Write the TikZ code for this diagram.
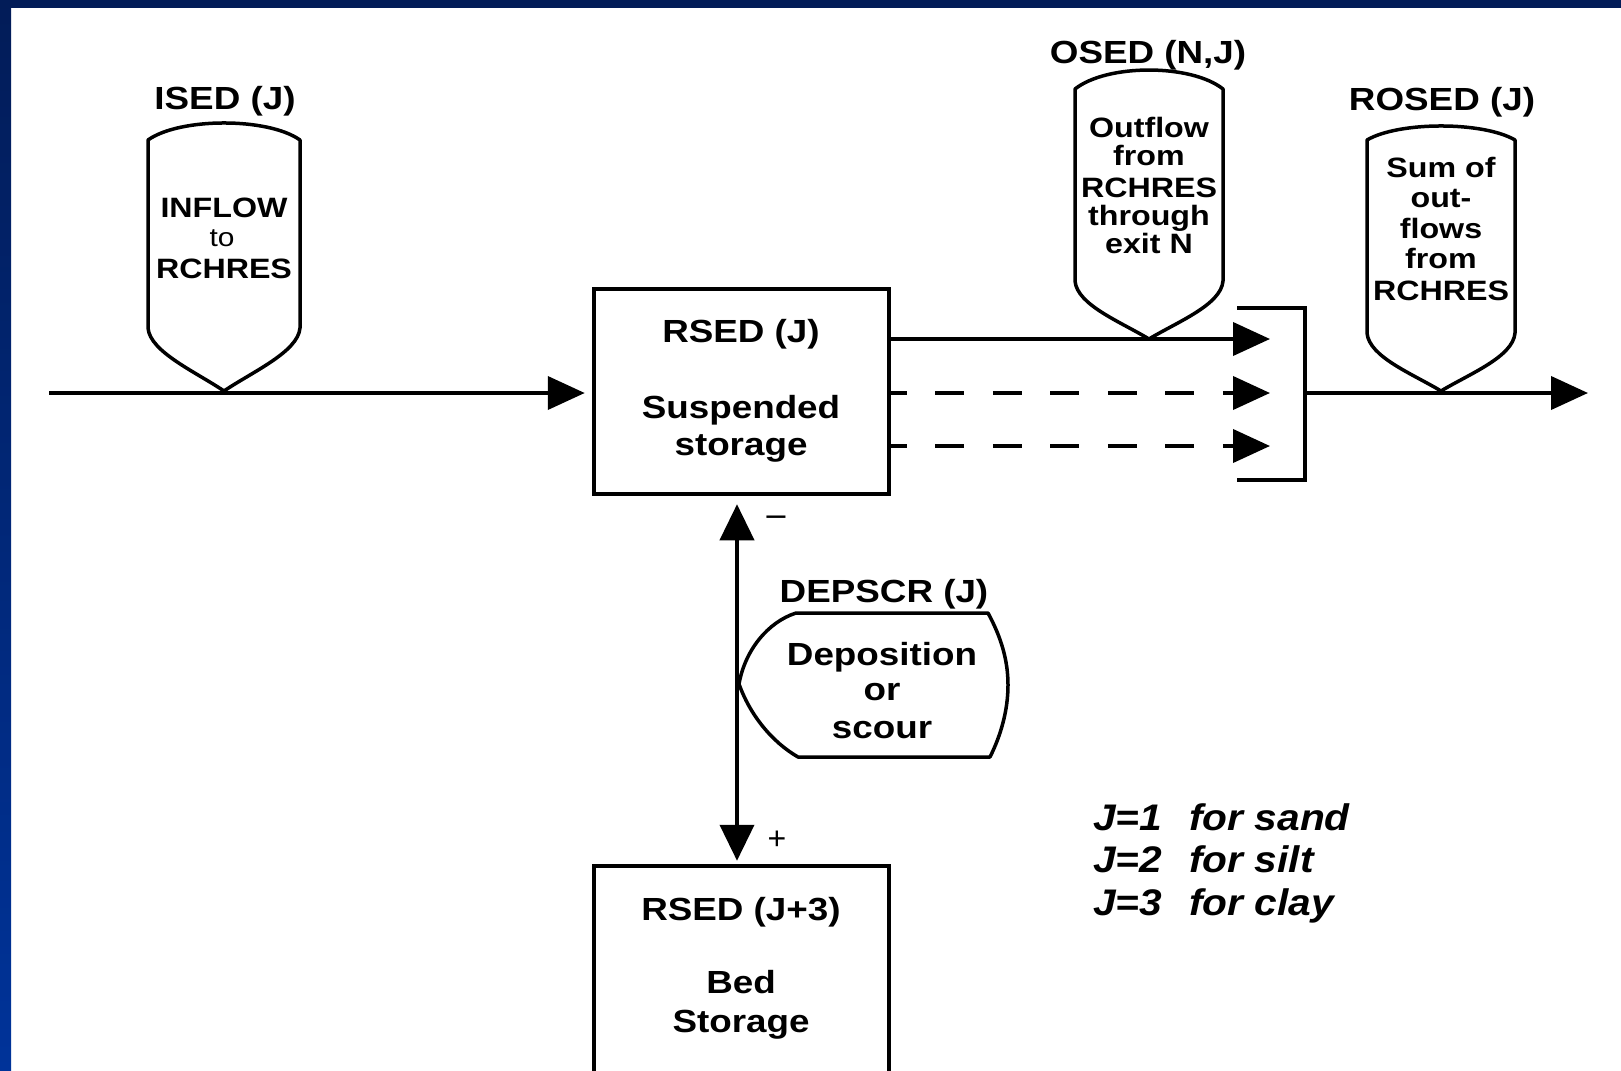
\documentclass[tikz,border=0pt]{standalone}
\usepackage{fontspec}
\setmainfont{Liberation Sans}
\usepackage{graphicx}
\usetikzlibrary{arrows.meta}
\definecolor{navy}{RGB}{2,28,88}
\definecolor{frameblue}{RGB}{0,51,153}
\newcommand{\sx}[1]{\scalebox{1.15}[1]{#1}}
\newcommand{\sj}[1]{\scalebox{1.1}[1]{#1}}
\newcommand{\fL}{\fontsize{32}{38}\selectfont\bfseries}
\newcommand{\fS}{\fontsize{28}{32}\selectfont\bfseries}
\newcommand{\fT}{\fontsize{26}{30}\selectfont}
\newcommand{\fJ}{\fontsize{37}{42}\selectfont\bfseries\itshape}
\begin{document}
\begin{tikzpicture}[x=1pt,y=-1pt,
  txt/.style={inner sep=0pt, anchor=base},
  box/.style={draw, line width=4.5pt, fill=white, inner sep=0pt},
  shield/.style={draw, line width=3.5pt, fill=white, line join=round},
  flow/.style={line width=4pt, -{Triangle[length=37pt,width=33pt]}},
  dflow/.style={flow, dash pattern=on 29pt off 28.5pt, dash phase=13.5pt},
  biflow/.style={line width=4pt, {Triangle[length=36pt,width=34pt]}-{Triangle[length=36pt,width=34pt]}},
]
\useasboundingbox (0,0) rectangle (1621,1070);
\fill[white] (0,0) rectangle (1621,1070);
\fill[navy] (0,0) rectangle (1621,8);
\shade[top color=navy, bottom color=frameblue] (0,0) rectangle (11,1070);

% boxes
\node[box, minimum width=295pt, minimum height=205pt] (susp) at (741.5,391.5) {};
\node[box, minimum width=295pt, minimum height=218pt] (bed) at (741.5,975) {};

% coordinates
\coordinate (src) at (49,393);
\coordinate (t1) at (1270,339);
\coordinate (t2) at (1270,393);
\coordinate (t3) at (1270,446);
\coordinate (brT) at (1237,308);
\coordinate (brB) at (1237,480);
\coordinate (brR) at (1305,393);
\coordinate (out) at (1588,393);
\coordinate (vx) at (737,0);

% input line
\draw[flow, shorten >=7pt] (src) -- (src -| susp.west);

% outflows
\draw[flow] (susp.east |- t1) -- (t1);
\draw[dflow] (susp.east |- t2) -- (t2);
\draw[dflow] (susp.east |- t3) -- (t3);

% bracket
\draw[line width=4.5pt] (brT) -| (brR |- brB) -- (brB);
\draw[flow] (brR) -- (out);

% vertical exchange
\draw[biflow, shorten <=8pt, shorten >=3pt] (susp.south -| vx) -- (bed.north -| vx);

% ISED shield
\draw[shield] (148,140) .. controls (180,117.3) and (268,117.3) .. (300,140) -- (300,328)
  .. controls (298,352) and (252,372) .. (224,391)
  .. controls (196,372) and (150,352) .. (148,328) -- cycle;
% OSED shield
\draw[shield] (1075,89) .. controls (1107,63.7) and (1191,63.7) .. (1223,89) -- (1223,281)
  .. controls (1221,305) and (1177,322) .. (1149,339)
  .. controls (1121,322) and (1077,305) .. (1075,281) -- cycle;
% ROSED shield
\draw[shield] (1367,140) .. controls (1399,121.3) and (1483,121.3) .. (1515,140) -- (1515,333)
  .. controls (1513,357) and (1469,374) .. (1441,391)
  .. controls (1413,374) and (1369,357) .. (1367,333) -- cycle;
% DEPSCR display shape
\draw[shield] (796,613) -- (988,613) .. controls (1001,637) and (1008,660) .. (1008,685)
  .. controls (1008,710) and (1001,735) .. (990,757) -- (798,757)
  .. controls (772,742) and (750,715) .. (739,684)
  .. controls (745,650) and (768,622) .. (796,613) -- cycle;

% ISED texts
\node[txt] (isedL) at (225,110) {\fL\sx{ISED (J)}};
\node[txt] (ised1) at (224,217) {\fS\sx{INFLOW}};
\node[txt] (ised2) at (222,246) {\fT\sx{to}};
\node[txt] (ised3) at (224,278) {\fS\sx{RCHRES}};

% OSED texts
\node[txt] (osedL) at (1148,64) {\fL\sx{OSED (N,J)}};
\node[txt] (osed1) at (1149,137) {\fS\sx{Outflow}};
\node[txt] (osed2) at (1149,165) {\fS\sx{from}};
\node[txt] (osed3) at (1149,197) {\fS\sx{RCHRES}};
\node[txt] (osed4) at (1149,225) {\fS\sx{through}};
\node[txt] (osed5) at (1149,253) {\fS\sx{exit N}};

% ROSED texts
\node[txt] (rosedL) at (1442,111) {\fL\sx{ROSED (J)}};
\node[txt] (rosed1) at (1441,177) {\fS\sx{Sum of}};
\node[txt] (rosed2) at (1441,207) {\fS\sx{out-}};
\node[txt] (rosed3) at (1441,238) {\fS\sx{flows}};
\node[txt] (rosed4) at (1441,268) {\fS\sx{from}};
\node[txt] (rosed5) at (1441,300) {\fS\sx{RCHRES}};

% suspended box texts
\node[txt] (susp1) at (741,342) {\fL\sx{RSED (J)}};
\node[txt] (susp2) at (741,418) {\fL\sx{Suspended}};
\node[txt] (susp3) at (741,455) {\fL\sx{storage}};

% DEPSCR texts
\node[txt] (depL) at (884,602) {\fL\sx{DEPSCR (J)}};
\node[txt] (dep1) at (882,665) {\fL\sx{Deposition}};
\node[txt] (dep2) at (882,700) {\fL\sx{or}};
\node[txt] (dep3) at (882,738) {\fL\sx{scour}};

% signs
\node[inner sep=0pt] (minus) at (776,522) {\fontsize{34}{38}\selectfont \sx{−}};
\node[inner sep=0pt] (plus) at (777,840) {\fontsize{32}{36}\selectfont +};

% bed box texts
\node[txt] (bed1) at (741,920) {\fL\sx{RSED (J+3)}};
\node[txt] (bed2) at (741,993) {\fL\sx{Bed}};
\node[txt] (bed3) at (741,1032) {\fL\sx{Storage}};

% legend
\node[txt, anchor=base west] (j1) at (1093,830) {\fJ\sj{J=1}};
\node[txt, anchor=base west] (j1t) at (1189,830) {\fJ\sj{for sand}};
\node[txt, anchor=base west] (j2) at (1093,872) {\fJ\sj{J=2}};
\node[txt, anchor=base west] (j2t) at (1189,872) {\fJ\sj{for silt}};
\node[txt, anchor=base west] (j3) at (1093,915) {\fJ\sj{J=3}};
\node[txt, anchor=base west] (j3t) at (1189,915) {\fJ\sj{for clay}};
\end{tikzpicture}
\end{document}
